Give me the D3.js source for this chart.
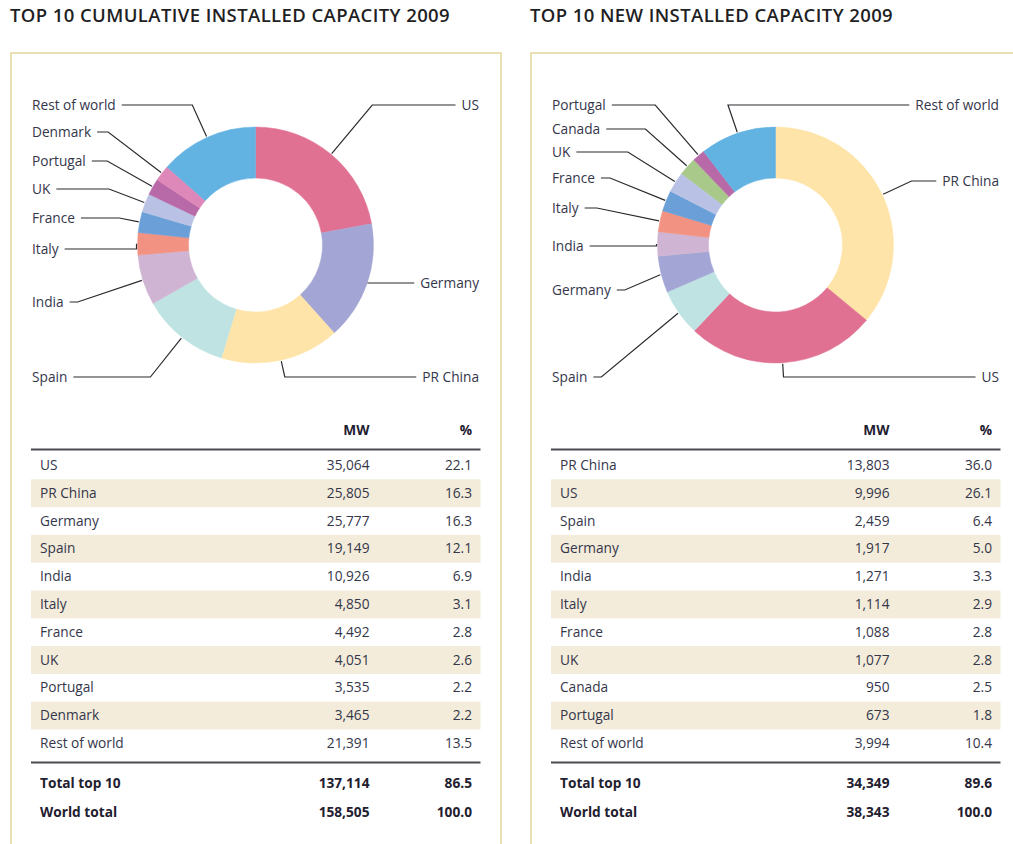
<!DOCTYPE html>
<html>
<head>
<meta charset="utf-8">
<script src="https://cdn.jsdelivr.net/npm/d3@7/dist/d3.min.js"></script>
<style>
  body { margin: 0; background: #fff; }
  svg { display: block; font-family: "Open Sans", "DejaVu Sans", sans-serif; }
  .title { font-size: 18.5px; font-weight: 600; fill: #1f1f24; letter-spacing: 0.4px; }
  .lbl, .cell { font-size: 13.7px; fill: #34364a; }
  .bold { font-weight: 700; fill: #1f2030; }
</style>
</head>
<body>
<div id="chart"></div>
<script>
'use strict'

// Data: cumulative installed capacity 2009.
const cumNames = ['US', 'PR China', 'Germany', 'Spain', 'India', 'Italy', 'France', 'UK', 'Portugal', 'Denmark', 'Rest of world'];
const cumMW = [35064, 25805, 25777, 19149, 10926, 4850, 4492, 4051, 3535, 3465, 21391];
const cumPct = [22.1, 16.3, 16.3, 12.1, 6.9, 3.1, 2.8, 2.6, 2.2, 2.2, 13.5];
const cumPieOrder = ['US', 'Germany', 'PR China', 'Spain', 'India', 'Italy', 'France', 'UK', 'Portugal', 'Denmark', 'Rest of world'];
const cumTotalMW = [137114, 158505];
const cumTotalPct = [86.5, 100.0];

// Data: new installed capacity 2009.
const newNames = ['PR China', 'US', 'Spain', 'Germany', 'India', 'Italy', 'France', 'UK', 'Canada', 'Portugal', 'Rest of world'];
const newMW = [13803, 9996, 2459, 1917, 1271, 1114, 1088, 1077, 950, 673, 3994];
const newPct = [36.0, 26.1, 6.4, 5.0, 3.3, 2.9, 2.8, 2.8, 2.5, 1.8, 10.4];
const newPieOrder = ['PR China', 'US', 'Spain', 'Germany', 'India', 'Italy', 'France', 'UK', 'Canada', 'Portugal', 'Rest of world'];
const newTotalMW = [34349, 38343];
const newTotalPct = [89.6, 100.0];

const totalLabels = ['Total top 10', 'World total'];

// Styles.
const colors = {
    'US': '#e07192',
    'Germany': '#a3a6d4',
    'PR China': '#fee4a8',
    'Spain': '#bfe3e3',
    'India': '#cfb5d3',
    'Italy': '#f29282',
    'France': '#6b9fd8',
    'UK': '#b9c2e4',
    'Portugal': '#b86aa8',
    'Denmark': '#de87b9',
    'Canada': '#a9c98b',
    'Rest of world': '#62b2e2'
};

// Label layout (side and y of leader line).
const cumLabels = {
    'Rest of world': ['left', 105], 'Denmark': ['left', 132], 'Portugal': ['left', 161],
    'UK': ['left', 189], 'France': ['left', 218], 'Italy': ['left', 249],
    'India': ['left', 302], 'Spain': ['left', 377],
    'US': ['right', 105], 'Germany': ['right', 283], 'PR China': ['right', 377]
};
const newLabels = {
    'Portugal': ['left', 105], 'Canada': ['left', 129], 'UK': ['left', 152],
    'France': ['left', 178], 'Italy': ['left', 208], 'India': ['left', 246],
    'Germany': ['left', 290], 'Spain': ['left', 377],
    'Rest of world': ['right', 105], 'PR China': ['right', 181], 'US': ['right', 377]
};

const width = 1013, height = 844;
const fmtMW = d3.format(','), fmtPct = d3.format('.1f');

const svg = d3.select('#chart')
    .append('svg')
        .attr('width', width)
        .attr('height', height);

function drawPanel(px, panelW, title, names, mw, pct, pieOrder, totMW, totPct, labels) {

    // Title and frame.
    svg.append('text')
        .attr('class', 'title')
        .attr('x', px - 1)
        .attr('y', 22)
        .text(title);

    svg.append('rect')
        .attr('x', px)
        .attr('y', 53)
        .attr('width', panelW)
        .attr('height', height)
        .attr('fill', '#fff')
        .attr('stroke', '#eadfb4')
        .attr('stroke-width', 2);

    // Donut.
    const cx = px + 244.5, cy = 245, outerR = 118, innerR = 67;
    const byName = new Map(names.map((n, i) => [n, mw[i]]));
    const pie = d3.pie().sort(null).value(d => byName.get(d));
    const arcs = pie(pieOrder);
    const arc = d3.arc().innerRadius(innerR).outerRadius(outerR);

    const g = svg.append('g').attr('transform', `translate(${cx},${cy})`);
    g.selectAll('path')
        .data(arcs)
        .join('path')
            .attr('d', arc)
            .attr('fill', d => colors[d.data])
            .attr('stroke', d => colors[d.data])
            .attr('stroke-width', 0.5);

    // Labels with leader lines.
    arcs.forEach(d => {
        const [side, ly] = labels[d.data];
        const a = (d.startAngle + d.endAngle) / 2;
        const dx = Math.sin(a), dy = -Math.cos(a);
        const ex = cx + dx * (outerR + 1), ey = cy + dy * (outerR + 1);

        let elx = ex;
        if (Math.abs(dy) > 0.12 && (ly - ey) * dy > 0) {
            elx = ex + dx * (ly - ey) / dy;
        }

        const t = svg.append('text')
            .attr('class', 'lbl')
            .attr('y', ly)
            .attr('dy', '0.33em')
            .text(d.data);

        let sx;
        if (side === 'left') {
            t.attr('x', px + 21);
            const end = px + 21 + t.node().getComputedTextLength();
            sx = end + 6;
            elx = Math.max(elx, sx + 8);
        } else {
            t.attr('x', px + 468).attr('text-anchor', 'end');
            const start = px + 468 - t.node().getComputedTextLength();
            sx = start - 6;
            elx = Math.min(elx, sx - 8);
        }

        svg.append('path')
            .attr('d', d3.line()([[sx, ly], [elx, ly], [ex, ey]]))
            .attr('fill', 'none')
            .attr('stroke', '#2b2b30')
            .attr('stroke-width', 1.2);
    });

    // Table.
    const nameX = px + 29, mwX = px + 358.5, pctX = px + 461;
    const x1 = px + 20, x2 = px + 469.5;

    const y = d3.scaleBand()
        .domain(names)
        .range([451.5, 451.5 + names.length * 27.8]);

    svg.append('text').attr('class', 'cell bold').attr('x', mwX).attr('y', 430)
        .attr('dy', '0.33em').attr('text-anchor', 'end').attr('font-size', 12.5).text('MW');
    svg.append('text').attr('class', 'cell bold').attr('x', pctX).attr('y', 430)
        .attr('dy', '0.33em').attr('text-anchor', 'end').attr('font-size', 12.5).text('%');

    svg.append('line')
        .attr('x1', x1).attr('x2', x2)
        .attr('y1', 449.5).attr('y2', 449.5)
        .attr('stroke', '#4a4a50').attr('stroke-width', 2);

    const rows = svg.append('g');
    rows.selectAll('rect')
        .data(names.filter((n, i) => i % 2 === 1))
        .join('rect')
            .attr('x', x1)
            .attr('y', d => y(d))
            .attr('width', x2 - x1)
            .attr('height', y.bandwidth())
            .attr('fill', '#f3ecda');

    names.forEach((n, i) => {
        const yc = y(n) + y.bandwidth() / 2;
        rows.append('text').attr('class', 'cell').attr('x', nameX).attr('y', yc).attr('dy', '0.33em').text(n);
        rows.append('text').attr('class', 'cell').attr('x', mwX).attr('y', yc).attr('dy', '0.33em')
            .attr('text-anchor', 'end').text(fmtMW(mw[i]));
        rows.append('text').attr('class', 'cell').attr('x', pctX).attr('y', yc).attr('dy', '0.33em')
            .attr('text-anchor', 'end').text(fmtPct(pct[i]));
    });

    svg.append('line')
        .attr('x1', x1).attr('x2', x2)
        .attr('y1', 762.5).attr('y2', 762.5)
        .attr('stroke', '#4a4a50').attr('stroke-width', 2);

    const totY = d3.scalePoint().domain(totalLabels).range([783, 812]);
    totalLabels.forEach((n, i) => {
        svg.append('text').attr('class', 'cell bold').attr('x', nameX).attr('y', totY(n)).attr('dy', '0.33em').text(n);
        svg.append('text').attr('class', 'cell bold').attr('x', mwX).attr('y', totY(n)).attr('dy', '0.33em')
            .attr('text-anchor', 'end').text(fmtMW(totMW[i]));
        svg.append('text').attr('class', 'cell bold').attr('x', pctX).attr('y', totY(n)).attr('dy', '0.33em')
            .attr('text-anchor', 'end').text(fmtPct(totPct[i]));
    });
}

drawPanel(11, 490, 'TOP 10 CUMULATIVE INSTALLED CAPACITY 2009',
    cumNames, cumMW, cumPct, cumPieOrder, cumTotalMW, cumTotalPct, cumLabels);
drawPanel(531, 500, 'TOP 10 NEW INSTALLED CAPACITY 2009',
    newNames, newMW, newPct, newPieOrder, newTotalMW, newTotalPct, newLabels);
</script>
</body>
</html>
